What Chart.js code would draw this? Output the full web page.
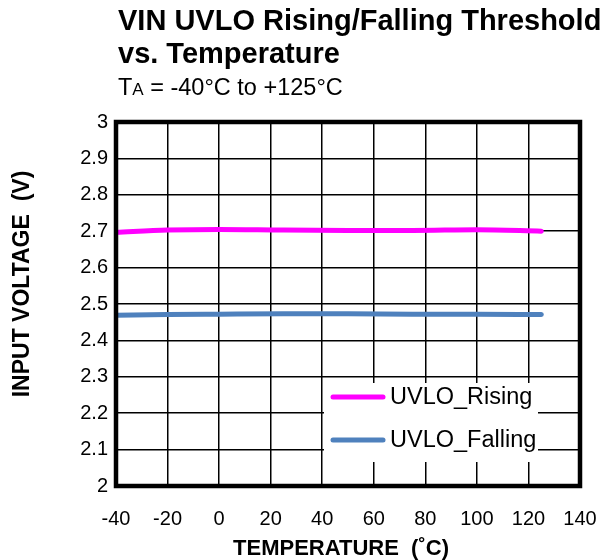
<!DOCTYPE html>
<html><head><meta charset="utf-8">
<script src="https://cdn.jsdelivr.net/npm/chart.js@4"></script>
<style>html,body{margin:0;padding:0;background:#fff}</style>
</head><body>
<canvas id="c" width="605" height="560"></canvas>
<script>
const temperatures = [-40, -20, 0, 25, 50, 75, 100, 125];
const uvloRising   = [2.697, 2.703, 2.705, 2.703, 2.702, 2.702, 2.704, 2.700];
const uvloFalling  = [2.469, 2.471, 2.472, 2.473, 2.473, 2.472, 2.472, 2.471];
const seriesNames  = ['UVLO_Rising', 'UVLO_Falling'];
const seriesColors = ['#FF00FF', '#4F81BD'];
const xTickValues  = [-40, -20, 0, 20, 40, 60, 80, 100, 120, 140];
const yTickValues  = [2, 2.1, 2.2, 2.3, 2.4, 2.5, 2.6, 2.7, 2.8, 2.9, 3];
const titleLines   = ['VIN UVLO Rising/Falling Threshold', 'vs. Temperature'];
const xTitle = 'TEMPERATURE  (\u02DAC)';
const yTitle = 'INPUT VOLTAGE  (V)';

const FONT = 'Arial, "Liberation Sans", sans-serif';

const decor = {
  id: 'decor',
  afterDatasetsDraw(chart) {
    const ctx = chart.ctx, a = chart.chartArea;
    ctx.save();
    const lx = 324, ly = 383, lw = 214, lh = 79;
    ctx.fillStyle = '#fff';
    ctx.fillRect(lx, ly, lw, lh);
    chart.data.datasets.forEach((ds, i) => {
      const y = 397 + i * 43;
      ctx.strokeStyle = ds.borderColor;
      ctx.lineWidth = 5;
      ctx.lineCap = 'round';
      ctx.beginPath(); ctx.moveTo(333, y); ctx.lineTo(383, y); ctx.stroke();
      ctx.fillStyle = '#000';
      ctx.font = '23.5px ' + FONT;
      ctx.textBaseline = 'middle';
      ctx.textAlign = 'left';
      ctx.fillText(ds.label, 390, y + 1);
    });
    ctx.strokeStyle = '#000';
    ctx.lineWidth = 4.5;
    ctx.lineCap = 'butt';
    ctx.strokeRect(a.left, a.top, a.right - a.left, a.bottom - a.top);
    ctx.restore();
  },
  afterDraw(chart) {
    const ctx = chart.ctx, a = chart.chartArea;
    ctx.save();
    ctx.fillStyle = '#000';
    ctx.textAlign = 'left';
    ctx.textBaseline = 'alphabetic';
    ctx.font = 'bold 29px ' + FONT;
    ctx.fillText(titleLines[0], 118, 30);
    ctx.fillText(titleLines[1], 118, 63);
    ctx.font = '23.5px ' + FONT;
    let x = 118;
    ctx.fillText('T', x, 95); x += ctx.measureText('T').width;
    ctx.font = '17px ' + FONT;
    ctx.fillText('A', x, 95); x += ctx.measureText('A').width;
    ctx.font = '23.5px ' + FONT;
    ctx.fillText(' = -40\u00B0C to +125\u00B0C', x, 95);
    ctx.font = 'bold 22px ' + FONT;
    ctx.textAlign = 'center';
    ctx.fillText(xTitle, 341, 555);
    ctx.save();
    ctx.translate(29, 284);
    ctx.rotate(-Math.PI / 2);
    ctx.font = 'bold 23px ' + FONT;
    ctx.fillText(yTitle, 0, 0);
    ctx.restore();
    ctx.restore();
  }
};

new Chart(document.getElementById('c'), {
  type: 'line',
  data: {
    datasets: [
      { label: seriesNames[0], data: temperatures.map((t, i) => ({x: t, y: uvloRising[i]})),
        borderColor: seriesColors[0], backgroundColor: seriesColors[0], borderWidth: 5,
        pointRadius: 0, cubicInterpolationMode: 'monotone', borderCapStyle: 'round' },
      { label: seriesNames[1], data: temperatures.map((t, i) => ({x: t, y: uvloFalling[i]})),
        borderColor: seriesColors[1], backgroundColor: seriesColors[1], borderWidth: 5,
        pointRadius: 0, cubicInterpolationMode: 'monotone', borderCapStyle: 'round' }
    ]
  },
  options: {
    responsive: false,
    animation: false,
    layout: { padding: { left: 0, right: 25, top: 122, bottom: 0 } },
    plugins: { legend: { display: false }, title: { display: false }, tooltip: { enabled: false } },
    scales: {
      x: {
        type: 'linear', min: -40, max: 140,
        afterBuildTicks: s => { s.ticks = xTickValues.map(v => ({value: v})); },
        afterFit: s => { s.height = 74; s.paddingRight = 0; s.paddingLeft = 0; },
        grid: { color: '#000', lineWidth: 1.5, drawTicks: false },
        border: { display: false },
        ticks: { color: '#000', font: { size: 20, family: FONT }, padding: 21, maxRotation: 0, autoSkip: false }
      },
      y: {
        type: 'linear', min: 2, max: 3,
        afterBuildTicks: s => { s.ticks = yTickValues.map(v => ({value: v})); },
        afterFit: s => { s.width = 116; s.paddingTop = 0; s.paddingBottom = 0; },
        grid: { color: '#000', lineWidth: 1.5, drawTicks: false },
        border: { display: false },
        ticks: { color: '#000', font: { size: 20, family: FONT }, padding: 8, autoSkip: false,
                 callback: v => String(Math.round(v * 10) / 10) }
      }
    }
  },
  plugins: [decor]
});
</script>
</body></html>
